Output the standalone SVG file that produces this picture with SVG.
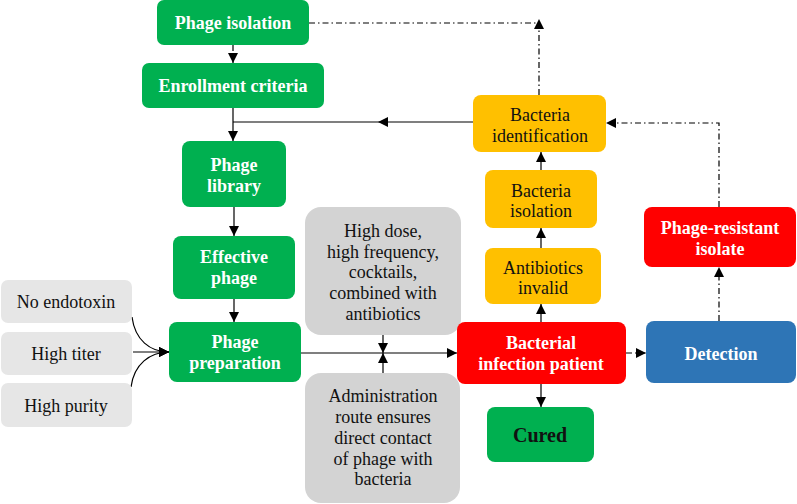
<svg xmlns="http://www.w3.org/2000/svg" width="797" height="504" viewBox="0 0 797 504">
<defs>
<marker id="ah" viewBox="0 0 10 10" refX="10" refY="5" markerWidth="10" markerHeight="10" markerUnits="userSpaceOnUse" orient="auto">
<path d="M0,0 L10,5 L0,10 z" fill="#000"/>
</marker>
<style>
.g{fill:#00B050}
.y{fill:#FFC000}
.r{fill:#FF0000}
.b{fill:#2E75B6}
.lg{fill:#E6E6E6}
.mg{fill:#D3D3D3}
text{font-family:'Liberation Serif','Times New Roman',Times,serif;font-size:18px;text-anchor:middle}
.w{fill:#fff;font-weight:bold}
.k{fill:#111}
.ln{fill:none;stroke:#000;stroke-width:1.2}
.dd{fill:none;stroke:#000;stroke-width:1.2;stroke-dasharray:6 3 1.5 3}
</style>
</defs>
<g id="connectors">
<path class="dd" d="M233,45 V63" marker-end="url(#ah)"/>
<path class="ln" d="M233,108 V141" marker-end="url(#ah)"/>
<path class="ln" d="M473,122 H233"/>
<path d="M378,122 L388,117 L388,127 z" fill="#000"/>
<path class="ln" d="M234,207 V236" marker-end="url(#ah)"/>
<path class="ln" d="M234,299 V322" marker-end="url(#ah)"/>
<path class="ln" d="M132,317 C135,340 150,352 169,352" marker-end="url(#ah)"/>
<path class="ln" d="M133,352 H169" marker-end="url(#ah)"/>
<path class="ln" d="M131,387 C134,364 150,352 169,352" marker-end="url(#ah)"/>
<path class="ln" d="M301,353 H457" marker-end="url(#ah)"/>
<path class="ln" d="M383,335 V353" marker-end="url(#ah)"/>
<path class="ln" d="M383,373 V353" marker-end="url(#ah)"/>
<path class="ln" d="M541,384 V407" marker-end="url(#ah)"/>
<path class="ln" d="M541,322 V304" marker-end="url(#ah)"/>
<path class="ln" d="M541,248 V228" marker-end="url(#ah)"/>
<path class="ln" d="M541,170 V152" marker-end="url(#ah)"/>
<path class="dd" d="M309,23 H539"/>
<path class="dd" d="M539,95 V19" marker-end="url(#ah)"/>
<path class="dd" d="M626,353 H646" marker-end="url(#ah)"/>
<path class="dd" d="M719,321 V267" marker-end="url(#ah)"/>
<path class="dd" d="M719,207 V123 H606" marker-end="url(#ah)"/>
</g>
<g id="phage-isolation"><rect class="g" x="157" y="0" width="152" height="45" rx="7"/><text class="w" x="233" y="29">Phage isolation</text></g>
<g id="enrollment-criteria"><rect class="g" x="142" y="63" width="182" height="45" rx="7"/><text class="w" x="233" y="92">Enrollment criteria</text></g>
<g id="phage-library"><rect class="g" x="182" y="141" width="104" height="66" rx="8"/><text class="w" x="234" y="171">Phage</text><text class="w" x="234" y="192">library</text></g>
<g id="effective-phage"><rect class="g" x="173" y="236" width="122" height="63" rx="8"/><text class="w" x="234" y="263">Effective</text><text class="w" x="234" y="284">phage</text></g>
<g id="phage-preparation"><rect class="g" x="169" y="322" width="132" height="60" rx="8"/><text class="w" x="235" y="348">Phage</text><text class="w" x="235" y="369">preparation</text></g>
<g id="no-endotoxin"><rect class="lg" x="1" y="280" width="131" height="43" rx="7"/><text class="k" x="66" y="308">No endotoxin</text></g>
<g id="high-titer"><rect class="lg" x="1" y="332" width="131" height="43" rx="7"/><text class="k" x="66" y="360">High titer</text></g>
<g id="high-purity"><rect class="lg" x="1" y="383" width="131" height="44" rx="7"/><text class="k" x="66" y="412">High purity</text></g>
<g id="dose-box"><rect class="mg" x="305" y="207" width="156" height="128" rx="16"/>
<text class="k" x="383" y="237">High dose,</text><text class="k" x="383" y="258">high frequency,</text><text class="k" x="383" y="278">cocktails,</text><text class="k" x="383" y="299">combined with</text><text class="k" x="383" y="320">antibiotics</text></g>
<g id="route-box"><rect class="mg" x="305" y="373" width="155" height="130" rx="16"/>
<text class="k" x="383" y="402">Administration</text><text class="k" x="383" y="423">route ensures</text><text class="k" x="383" y="444">direct contact</text><text class="k" x="383" y="465">of phage with</text><text class="k" x="383" y="485">bacteria</text></g>
<g id="bacterial-infection-patient"><rect class="r" x="457" y="322" width="169" height="62" rx="8"/><text class="w" x="541" y="349">Bacterial</text><text class="w" x="541" y="370">infection patient</text></g>
<g id="cured"><rect class="g" x="487" y="407" width="107" height="55" rx="8"/><text x="540" y="442" style="font-size:20px;font-weight:bold;fill:#111">Cured</text></g>
<g id="antibiotics-invalid"><rect class="y" x="485" y="248" width="116" height="56" rx="8"/><text class="k" x="543" y="274">Antibiotics</text><text class="k" x="543" y="294">invalid</text></g>
<g id="bacteria-isolation"><rect class="y" x="485" y="170" width="112" height="58" rx="8"/><text class="k" x="541" y="197">Bacteria</text><text class="k" x="541" y="217">isolation</text></g>
<g id="bacteria-identification"><rect class="y" x="473" y="95" width="133" height="57" rx="8"/><text class="k" x="540" y="121">Bacteria</text><text class="k" x="540" y="142">identification</text></g>
<g id="phage-resistant-isolate"><rect class="r" x="644" y="207" width="152" height="60" rx="8"/><text class="w" x="720" y="234">Phage-resistant</text><text class="w" x="720" y="255">isolate</text></g>
<g id="detection"><rect class="b" x="646" y="321" width="150" height="62" rx="8"/><text class="w" x="721" y="360">Detection</text></g>
</svg>
